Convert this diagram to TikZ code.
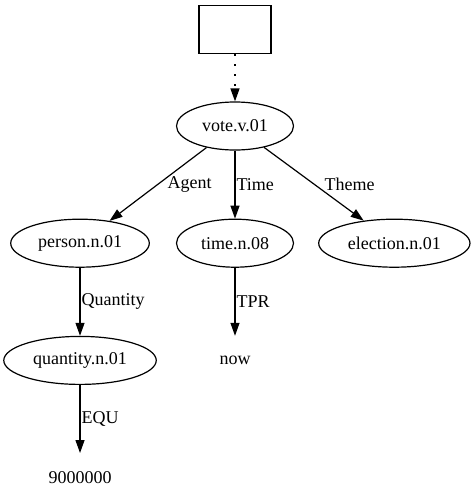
\documentclass[tikz,border=0pt]{standalone}
\usepackage{fontspec}
\setmainfont{Liberation Serif}
\usetikzlibrary{shapes.geometric,arrows.meta,positioning}

\begin{document}
\begin{tikzpicture}[
  x=1pt, y=1pt,
  font=\fontsize{18}{21}\selectfont,
  ent/.style={
    ellipse, draw, line width=1.2pt,
    minimum width=117pt, minimum height=48pt,
    inner xsep=7pt, inner ysep=2pt},
  frame/.style={
    rectangle, draw, line width=1.2pt,
    minimum width=72pt, minimum height=48pt},
  val/.style={
    rectangle, minimum height=48pt, inner sep=0pt},
  lbl/.style={inner sep=1pt},
  arr/.style={-{Triangle[length=13pt, width=9pt]}, line width=1.2pt},
  dots/.style={arr, line width=1.4pt, dash pattern=on 2pt off 8pt},
]
  \useasboundingbox (0,0) rectangle (474,-504);

  % ── Main spine ──────────────────────────────────────────────────────────
  \node[ent]                          (vote)     at (235,-126) {vote.v.01};
  \node[frame, above=47pt of vote]    (top)      {};
  \node[ent,   below=68pt of vote]    (time)     {time.n.08};

  % ── Sibling roles ───────────────────────────────────────────────────────
  \node[ent,   left=26pt of time]     (person)   {person.n.01};
  \node[ent,   right=24pt of time]    (election) {election.n.01};

  % ── Leaves ──────────────────────────────────────────────────────────────
  \node[ent,   below=68pt of person]   (quantity) {quantity.n.01};
  \node[val,   below=68pt of time]     (now)      {now};
  \node[val,   below=68pt of quantity] (number)   {9000000};

  % ── Arrows ──────────────────────────────────────────────────────────────
  \draw[dots] (top) -- (vote);
  \draw[arr] (vote) -- node[lbl, right=8pt]{Agent} (person);
  \draw[arr] (vote) -- node[lbl, right]{Time} (time);
  \draw[arr] (vote) -- node[lbl, right=9pt]{Theme} (election);
  \draw[arr] (person) -- node[lbl, right]{Quantity} (quantity);
  \draw[arr] (time) -- node[lbl, right]{TPR} (now);
  \draw[arr] (quantity) -- node[lbl, right]{EQU} (number);

\end{tikzpicture}
\end{document}
